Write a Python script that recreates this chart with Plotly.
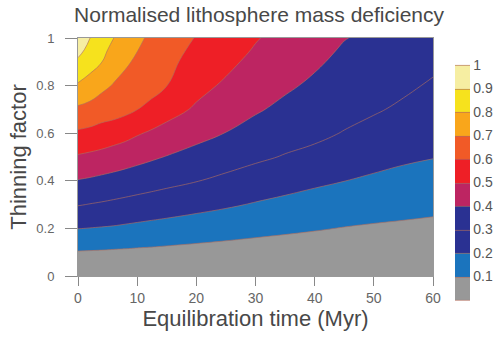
import plotly.graph_objects as go

# Equilibration time (Myr) grid columns
time_myr = [0, 2, 4, 6, 8, 10, 12, 15, 20, 25, 30, 35, 40, 45, 50, 55, 60]
# Thinning factor grid rows
thinning = [0.0, 0.1, 0.2, 0.3, 0.4, 0.5, 0.6, 0.7, 0.8, 0.9, 0.95, 1.0]

# Normalised mass deficiency, one list per thinning factor
z_y000 = [0.002] * 17
z_y010 = [.095, .093, .091, .088, .086, .083, .081, .077, .071, .066, .061, .057, .053, .049, .045, .042, .040]
z_y020 = [.202, .198, .194, .190, .184, .178, .172, .164, .150, .137, .125, .115, .106, .097, .090, .085, .080]
z_y030 = [.305, .297, .290, .282, .274, .266, .259, .248, .230, .212, .193, .177, .162, .148, .138, .129, .121]
z_y040 = [.395, .387, .377, .368, .358, .348, .338, .324, .303, .280, .257, .236, .217, .201, .186, .173, .163]
z_y050 = [.490, .480, .469, .455, .442, .428, .415, .396, .368, .340, .316, .294, .278, .251, .230, .214, .203]
z_y060 = [.585, .576, .563, .548, .531, .509, .491, .468, .429, .398, .366, .338, .318, .296, .272, .250, .232]
z_y070 = [.683, .668, .647, .640, .624, .601, .580, .535, .488, .443, .410, .379, .350, .326, .309, .286, .261]
z_y080 = [.789, .762, .724, .694, .666, .642, .635, .601, .527, .487, .443, .414, .384, .352, .333, .315, .290]
z_y090 = [.882, .838, .802, .747, .716, .683, .662, .627, .561, .521, .477, .443, .413, .378, .358, .339, .318]
z_y095 = [.934, .869, .826, .774, .738, .703, .675, .640, .578, .536, .493, .457, .425, .391, .371, .352, .331]
z_y100 = [.990, .901, .850, .801, .760, .720, .688, .653, .595, .551, .506, .471, .437, .403, .383, .364, .345]

deficiency = [z_y000, z_y010, z_y020, z_y030, z_y040, z_y050,
              z_y060, z_y070, z_y080, z_y090, z_y095, z_y100]

x_ticks = [0, 10, 20, 30, 40, 50, 60]
y_ticks = [0, 0.2, 0.4, 0.6, 0.8, 1.0]
y_ticklabels = ["0", "0.2", "0.4", "0.6", "0.8", "1"]
cb_ticks = [0.1, 0.2, 0.3, 0.4, 0.5, 0.6, 0.7, 0.8, 0.9, 1.0]
cb_ticklabels = ["0.1", "0.2", "0.3", "0.4", "0.5", "0.6", "0.7", "0.8", "0.9", "1"]

band_colors = ["#989898", "#1b74bd", "#2a3192", "#2a3192", "#bd2562",
               "#ee1f26", "#f15a27", "#f9a61b", "#f6e21d", "#f6eea2"]

colorscale = []
for i, c in enumerate(band_colors):
    colorscale.append([i / 10, c])
    colorscale.append([(i + 1) / 10, c])

FONT = "Liberation Sans, Arial, sans-serif"

fig = go.Figure(go.Contour(
    x=time_myr, y=thinning, z=deficiency,
    zmin=0, zmax=1, zauto=False,
    contours=dict(start=0, end=1, size=0.1, coloring="fill"),
    colorscale=colorscale,
    line=dict(color="rgba(175,110,95,0.8)", width=0.8, smoothing=1.3),
    colorbar=dict(
        x=1.062, xanchor="left", xpad=0,
        y=0.393, yanchor="middle", ypad=0,
        lenmode="pixels", len=235, thickness=15,
        outlinewidth=0, ticks="",
        tickvals=cb_ticks, ticktext=cb_ticklabels,
        tickfont=dict(family=FONT, size=14, color="#555"),
    ),
    hoverinfo="skip",
))

fig.update_layout(
    width=497, height=351,
    margin=dict(l=78, r=64, t=38, b=75, autoexpand=False),
    paper_bgcolor="white", plot_bgcolor="white",
    title=dict(text="Normalised lithosphere mass deficiency",
               x=0.51, xref="paper", xanchor="center",
               y=1 - 15 / 351, yref="container", yanchor="middle",
               font=dict(family=FONT, size=21, color="#484848")),
    font=dict(family=FONT, color="#555"),
)
fig.update_xaxes(
    range=[0, 60], tickvals=x_ticks, ticks="outside", ticklen=9,
    tickcolor="#888", showline=True, linecolor="#999", mirror=True,
    showgrid=False, zeroline=False,
    tickfont=dict(family=FONT, size=14, color="#666"),
    title=dict(text="Equilibration time (Myr)", standoff=4,
               font=dict(family=FONT, size=22, color="#484848")),
)
fig.update_yaxes(
    range=[0, 1], tickvals=y_ticks, ticktext=y_ticklabels,
    ticks="outside", ticklen=12, tickcolor="#888",
    ticklabelstandoff=8,
    showline=True, linecolor="#999", mirror=True,
    showgrid=False, zeroline=False,
    tickfont=dict(family=FONT, size=13, color="#666"),
    title=dict(text="Thinning factor", standoff=3,
               font=dict(family=FONT, size=22, color="#484848")),
)

fig.write_html("out.html")
